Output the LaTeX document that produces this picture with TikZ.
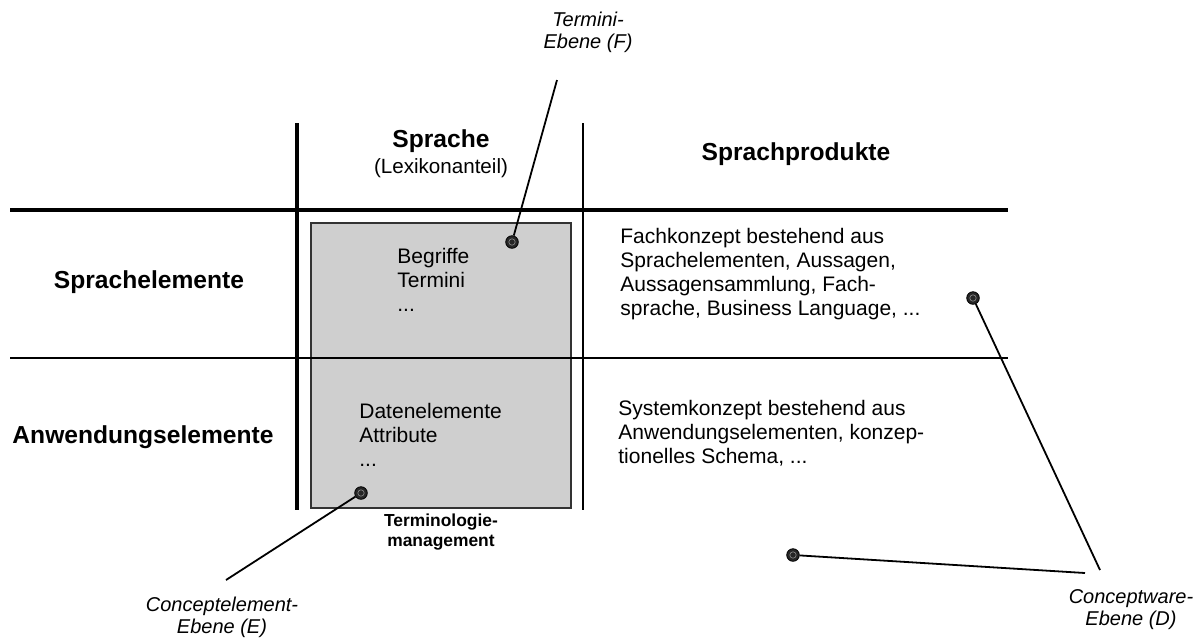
\documentclass[tikz,border=0pt]{standalone}
\usepackage{fontspec}
\setmainfont{Liberation Sans}
\usetikzlibrary{positioning}

\begin{document}
\begin{tikzpicture}[
  x=0.5pt,y=-0.5pt,
  font=\fontsize{10.5}{12}\selectfont,
  head/.style={font=\fontsize{12.3}{14}\selectfont\bfseries,align=center,inner sep=0pt},
  cell/.style={align=left,anchor=west,inner sep=0pt},
  level/.style={font=\fontsize{10}{11}\selectfont\itshape,align=center,inner sep=0pt},
  termbox/.style={draw=black!80,line width=0.8pt,fill=black!19,minimum width=130pt,minimum height=142.5pt,inner sep=0pt},
  dot/.style={circle,draw=black,fill=black!85,minimum size=6.3pt,inner sep=0pt,
    path picture={\draw[black!45,line width=0.3pt] (path picture bounding box.center) circle (1.6pt);}},
  pin/.style={line width=0.9pt},
]
\useasboundingbox (0,0) rectangle (1195,639);
% shaded column part
\node[termbox] (term) at (441,365.5) {};
% grid
\draw[line width=2pt] (297,123) -- (297,510);
\draw[line width=1.2pt] (583,123) -- (583,510);
\draw[line width=2pt] (10,210) -- (1008,210);
\draw[line width=1pt] (10,358) -- (1008,358);
% headings
\node[head] (spr) at (441,154) {Sprache\\[-1pt]{\mdseries\fontsize{10.3}{12}\selectfont(Lexikonanteil)}};
\node[head] (prod) at (796,154) {Sprachprodukte};
\node[head] (selem) at (149,282) {Sprachelemente};
\node[head] (aelem) at (143,437) {Anwendungselemente};
% cells
\node[cell] (begr) at (397,280) {Begriffe\\Termini\\...};
\node[cell] (daten) at (359,435) {Datenelemente\\Attribute\\...};
\node[cell] (fach) at (620,274) {Fachkonzept bestehend aus\\Sprachelementen, Aussagen,\\Aussagensammlung, Fach-\\sprache, Business Language, ...};
\node[cell] (sys) at (618,433) {Systemkonzept bestehend aus\\Anwendungselementen, konzep-\\tionelles Schema, ...};
\node[head,font=\fontsize{8.7}{9.6}\selectfont\bfseries] (tm) at (441,532) {Terminologie-\\management};
% levels
\node[level] (levF) at (588,32) {Termini-\\Ebene (F)};
\node[level] (levE) at (222,617) {Conceptelement-\\Ebene (E)};
\node[level] (levD) at (1131,610) {Conceptware-\\Ebene (D)};
\node[dot] (dotF) at (512,242) {};
\node[dot] (dotE) at (361,493) {};
\node[dot] (dotDa) at (973,298) {};
\node[dot] (dotDb) at (793,555) {};
\coordinate (endF) at (557,80);
\coordinate (endE) at (226,580);
\coordinate (endDa) at (1100,570);
\coordinate (endDb) at (1085,573);
\draw[pin] (dotF) -- (endF);
\draw[pin] (dotE) -- (endE);
\draw[pin] (dotDa) -- (endDa);
\draw[pin] (dotDb) -- (endDb);
\end{tikzpicture}
\end{document}
